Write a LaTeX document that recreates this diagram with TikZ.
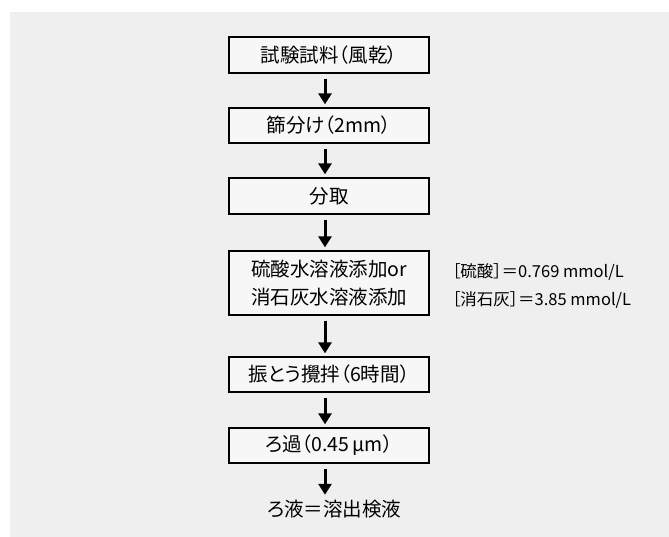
\documentclass[tikz,border=0pt]{standalone}
\usepackage{fontspec}
\setmainfont{Noto Sans CJK JP}[RawFeature=+palt]
\usetikzlibrary{arrows.meta}
\definecolor{bgray}{HTML}{EFEFEF}
\definecolor{boxfill}{HTML}{F7F7F7}
\begin{document}
\begin{tikzpicture}[x=1pt,y=-1pt,
  stepbox/.style={draw=black,line width=1.3pt,fill=boxfill,minimum width=200pt,inner sep=0pt,font=\fontsize{19.5}{28}\selectfont},
  arr/.style={line width=3pt,-{Triangle[width=13pt,length=11pt]},shorten <=5pt,shorten >=3pt},
  side/.style={anchor=west,inner sep=0pt,font=\fontsize{16.5}{20}\selectfont}]
\useasboundingbox (0,0) rectangle (669,537);
\fill[bgray] (10,12) rectangle (669,537);
\node[stepbox,minimum height=36pt] (a) at (329,55) {試験試料（風乾）};
\node[stepbox,minimum height=35pt] (b) at (329,125.5) {篩分け（2mm）};
\node[stepbox,minimum height=36pt] (c) at (329,196) {分取};
\node[stepbox,minimum height=64pt,align=center] (d) at (329,283) {硫酸水溶液添加or\\消石灰水溶液添加};
\node[stepbox,minimum height=35pt] (e) at (329,374.5) {振とう攪拌（6時間）};
\node[stepbox,minimum height=35pt] (f) at (329,445.5) {ろ過（0.45\,μm）};
\node[font=\fontsize{19.5}{22}\selectfont,inner sep=2pt] (g) at (334,509) {ろ液＝溶出検液};
\node[side] (s1) at (452,272) {［硫酸］＝0.769 mmol/L};
\node[side] (s2) at (452,300) {［消石灰］＝3.85 mmol/L};
\draw[arr] ([xshift=-4pt]a.south) -- ([xshift=-4pt]b.north);
\draw[arr] ([xshift=-4pt]b.south) -- ([xshift=-4pt]c.north);
\draw[arr] ([xshift=-4pt]c.south) -- ([xshift=-4pt]d.north);
\draw[arr] ([xshift=-4pt]d.south) -- ([xshift=-4pt]e.north);
\draw[arr] ([xshift=-4pt]e.south) -- ([xshift=-4pt]f.north);
\draw[arr] ([xshift=-4pt]f.south) -- ([xshift=-4pt]f.south |- g.north);
\end{tikzpicture}
\end{document}
